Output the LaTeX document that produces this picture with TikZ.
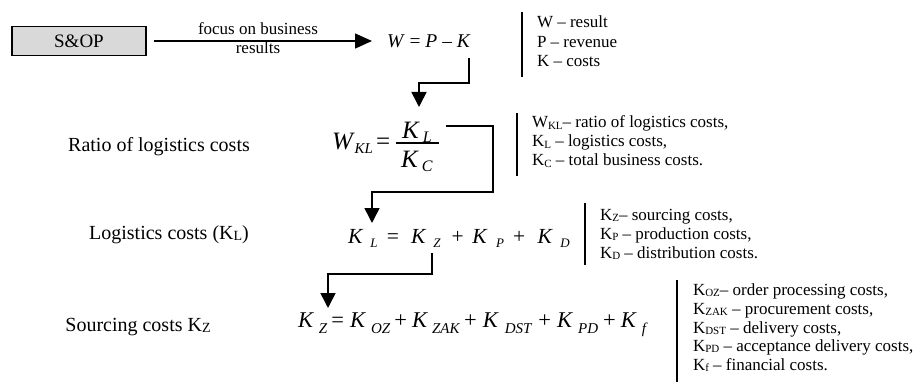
\documentclass[tikz,border=0pt]{standalone}
\usepackage{fontspec}
\setmainfont{Liberation Serif}
\usetikzlibrary{arrows.meta}
\definecolor{boxgray}{HTML}{D9D9D9}
% italic variable with italic subscript: #1 letter, #2 sub, #3 sub size, #4 drop, #5 gap
\newcommand\VS[5]{\textit{#1}\hspace{#5}\raisebox{-#4}{\fontsize{#3}{#3}\selectfont\textit{#2}}}
% upright text with small upright subscript
\newcommand\TS[2]{#1\raisebox{-1.5pt}{\fontsize{11}{11}\selectfont #2}}
\newcommand\TSL[2]{#1\raisebox{-1pt}{\fontsize{14}{14}\selectfont #2}}
\begin{document}
\begin{tikzpicture}[x=1pt,y=-1pt,
  every node/.style={inner sep=0pt, outer sep=0pt},
  desc/.style={anchor=base west, font=\fontsize{17}{19}\selectfont},
  lbl/.style={anchor=base, font=\fontsize{20}{22}\selectfont},
  vbar/.style={line width=1.9pt},
  conn/.style={line width=1.6pt},
  tipd/.style={-{Triangle[length=15pt,width=15pt]}},
  tipr/.style={-{Triangle[length=17pt,width=15pt]}}
]
\useasboundingbox (0,0) rectangle (915,382);

% ---- row 1 ----
\node[draw, line width=1.7pt, fill=boxgray, minimum width=134pt, minimum height=29pt,
      font=\fontsize{19}{20}\selectfont] (sop) at (79,41) {S\&OP};
\node[anchor=base west, font=\fontsize{19.5}{20}\selectfont] (eq1) at (387,48)
  {\textit{W} = \textit{P} – \textit{K}};
\draw[line width=1.4pt, tipr] ([xshift=8pt]sop.east) -- ([xshift=-15pt]sop.east -| eq1.west);
\node[desc, anchor=base] (f1) at (258,35) {focus on business};
\node[desc, anchor=base] (f2) at (258,54) {results};

\draw[vbar] (522,12) -- (522,77);
\node[desc] (d11) at (537,28) {W – result};
\node[desc] (d12) at (537,48) {P – revenue};
\node[desc] (d13) at (537,67) {K – costs};

\coordinate (k1) at (469,58);
\coordinate (t2) at (419,107);
\draw[conn, tipd] (k1) -- ++(0,25) -| (t2);

% ---- row 2 ----
\node[lbl] (l2) at (159,152) {Ratio of logistics costs};
\node[anchor=base west, font=\fontsize{25}{26}\selectfont] (w2) at (332,150)
  {\VS{W}{KL}{15}{4pt}{0pt}\hspace{3pt}=};
\node[anchor=base, font=\fontsize{25}{26}\selectfont] (num) at (417,139) {\VS{K}{L}{16}{4pt}{3pt}};
\node[anchor=base, font=\fontsize{25}{26}\selectfont] (den) at (417,168) {\VS{K}{C}{16}{4pt}{3pt}};
\draw[line width=1.2pt] (396,143) -- (439,143);

\draw[vbar] (517,113) -- (517,176);
\node[desc] (d21) at (532,128) {\TS{W}{KL}– ratio of logistics costs,};
\node[desc] (d22) at (532,147) {\TS{K}{L} – logistics costs,};
\node[desc] (d23) at (532,166) {\TS{K}{C} – total business costs.};

\coordinate (k2) at (446,126);
\coordinate (t3) at (372,223);
\draw[conn, tipd] (k2) -- ++(47,0) -- ++(0,66) -| (t3);

% ---- row 3 ----
\node[lbl] (l3) at (169,239) {Logistics costs (\TSL{K}{L})};
\node[anchor=base west, font=\fontsize{21.5}{23}\selectfont] (eq3) at (348,243)
  {\VS{K}{L}{13}{5pt}{7pt}\hspace{9.5pt}=\hspace{12pt}\VS{K}{Z}{13}{5pt}{7pt}\hspace{11pt}+\hspace{8.5pt}\VS{K}{P}{13}{5pt}{8.5pt}\hspace{9pt}+\hspace{12.5pt}\VS{K}{D}{13}{5pt}{7.5pt}};

\draw[vbar] (585,203) -- (585,265);
\node[desc] (d31) at (600,220) {\TS{K}{Z}– sourcing costs,};
\node[desc] (d32) at (600,239) {\TS{K}{P} – production costs,};
\node[desc] (d33) at (600,258) {\TS{K}{D} – distribution costs.};

\coordinate (k3) at (432,253);
\coordinate (t4) at (328,308);
\draw[conn, tipd] (k3) -- ++(0,21) -| (t4);

% ---- row 4 ----
\node[lbl] (l4) at (138,331) {Sourcing costs \TSL{K}{Z}};
\node[anchor=base west, font=\fontsize{22.5}{24}\selectfont] (eq4) at (298,327)
  {\VS{K}{Z}{15}{6pt}{5pt}\hspace{4pt}=\hspace{6pt}\VS{K}{OZ}{15}{6pt}{5pt}\hspace{4pt}+\hspace{5pt}\VS{K}{ZAK}{15}{6pt}{4pt}\hspace{4pt}+\hspace{6pt}\VS{K}{DST}{15}{6pt}{6pt}\hspace{6pt}+\hspace{6pt}\VS{K}{PD}{15}{6pt}{5pt}\hspace{5pt}+\hspace{5pt}\VS{K}{f}{15}{6pt}{5pt}};

\draw[vbar] (677,280) -- (677,382);
\node[desc] (d41) at (693,295) {\TS{K}{OZ}– order processing costs,};
\node[desc] (d42) at (693,314) {\TS{K}{ZAK} – procurement costs,};
\node[desc] (d43) at (693,333) {\TS{K}{DST} – delivery costs,};
\node[desc] (d44) at (693,351) {\TS{K}{PD} – acceptance delivery costs,};
\node[desc] (d45) at (693,370) {\TS{K}{f} – financial costs.};
\end{tikzpicture}
\end{document}
